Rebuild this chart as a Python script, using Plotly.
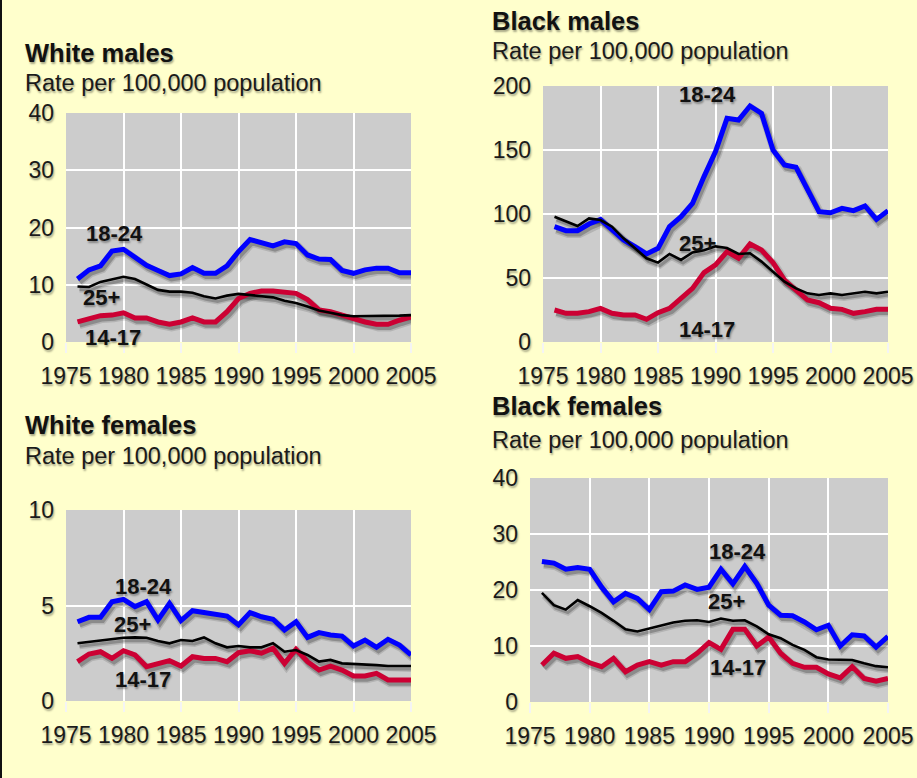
import plotly.graph_objects as go

# ---------------------------------------------------------------------------
# Homicide victimisation rates (per 100,000 population), 1976-2005
# ---------------------------------------------------------------------------
years = list(range(1976, 2006))
age_groups = ["18-24", "25+", "14-17"]

wm_18_24 = [11.0, 12.6, 13.3, 15.9, 16.2, 14.8, 13.4, 12.5, 11.6, 11.9,
            13.0, 12.0, 12.0, 13.3, 15.8, 17.9, 17.3, 16.8, 17.5, 17.2,
            15.2, 14.5, 14.4, 12.5, 12.0, 12.6, 12.9, 12.9, 12.1, 12.1]
wm_25_plus = [9.7, 9.6, 10.5, 10.9, 11.4, 11.0, 10.0, 9.1, 8.8, 8.8,
              8.6, 8.0, 7.6, 8.1, 8.4, 8.2, 8.0, 7.8, 7.2, 6.8,
              6.2, 5.5, 5.1, 4.7, 4.5, 4.5, 4.6, 4.6, 4.6, 4.7]
wm_14_17 = [3.5, 4.0, 4.6, 4.7, 5.1, 4.2, 4.2, 3.5, 3.1, 3.5,
            4.2, 3.5, 3.5, 5.3, 7.6, 8.5, 8.9, 8.9, 8.6, 8.5,
            7.4, 5.6, 5.3, 4.7, 4.0, 3.5, 3.1, 3.1, 3.8, 4.4]

bm_18_24 = [90.1, 87.0, 87.0, 92.2, 95.8, 88.0, 79.7, 74.5, 68.8, 73.2,
            90.1, 97.9, 108.3, 129.2, 148.7, 174.7, 173.4, 184.4, 178.6, 150.0,
            138.3, 136.5, 120.1, 101.8, 101.0, 104.4, 102.6, 106.3, 95.8, 102.6]
bm_25_plus = [97.9, 94.0, 90.6, 96.6, 95.3, 90.1, 81.0, 73.2, 65.4, 62.0,
              68.8, 64.1, 70.0, 71.6, 74.7, 73.4, 68.8, 69.3, 62.8, 54.9,
              47.1, 41.9, 38.0, 36.7, 38.0, 36.7, 38.0, 39.3, 38.0, 39.3]
bm_14_17 = [25.0, 22.4, 22.4, 23.7, 26.3, 22.4, 21.1, 21.1, 17.7, 22.9,
            26.3, 34.1, 41.9, 54.2, 60.2, 70.6, 65.4, 76.6, 71.9, 62.0,
            48.4, 40.6, 32.8, 30.7, 26.3, 25.5, 22.4, 23.7, 25.5, 25.5]

wf_18_24 = [4.15, 4.38, 4.38, 5.2, 5.32, 4.94, 5.2, 4.24, 5.11, 4.21,
            4.73, 4.63, 4.55, 4.45, 3.98, 4.63, 4.41, 4.28, 3.72, 4.15,
            3.33, 3.58, 3.46, 3.4, 2.88, 3.19, 2.81, 3.23, 2.93, 2.41]
wf_25_plus = [3.02, 3.1, 3.16, 3.23, 3.31, 3.33, 3.31, 3.14, 3.02, 3.19,
              3.14, 3.33, 3.02, 2.81, 2.88, 2.81, 2.81, 3.02, 2.58, 2.67,
              2.41, 2.06, 2.15, 1.97, 1.94, 1.94, 1.88, 1.83, 1.83, 1.83]
wf_14_17 = [2.06, 2.46, 2.58, 2.23, 2.63, 2.41, 1.8, 1.94, 2.11, 1.83,
            2.32, 2.23, 2.23, 2.06, 2.53, 2.63, 2.5, 2.76, 1.97, 2.71,
            2.06, 1.62, 1.83, 1.62, 1.31, 1.31, 1.45, 1.1, 1.1, 1.1]

bf_18_24 = [25.1, 24.8, 23.7, 24.0, 23.7, 20.5, 17.9, 19.4, 18.5, 16.5,
            19.7, 19.8, 20.9, 20.1, 20.5, 23.7, 21.1, 24.2, 21.2, 17.3,
            15.5, 15.4, 14.3, 12.9, 13.7, 10.0, 12.0, 11.8, 9.8, 11.7]
bf_25_plus = [19.5, 17.3, 16.5, 18.2, 17.1, 15.9, 14.5, 13.0, 12.6, 13.1,
              13.7, 14.2, 14.5, 14.6, 14.3, 14.9, 14.5, 14.6, 13.5, 12.1,
              11.4, 10.2, 9.3, 8.0, 7.6, 7.6, 7.5, 6.9, 6.4, 6.2]
bf_14_17 = [6.6, 8.7, 7.8, 8.1, 7.0, 6.3, 7.8, 5.4, 6.6, 7.2,
            6.6, 7.2, 7.2, 8.7, 10.6, 9.4, 13.0, 13.0, 10.0, 11.6,
            8.7, 6.9, 6.2, 6.2, 5.0, 4.3, 6.3, 4.2, 3.7, 4.2]

panel_titles = ["White males", "Black males", "White females", "Black females"]
subtitle = "Rate per 100,000 population"
x_ticks = [1975, 1980, 1985, 1990, 1995, 2000, 2005]

# ---------------------------------------------------------------------------
# Layout / style
# ---------------------------------------------------------------------------
W, H = 917, 778
FONT = "Liberation Sans, Arial, Helvetica, sans-serif"
BG = "#ffffcc"
PLOT_BG = "#cccccc"
TEXT_SHADOW = "1px 2px 2px rgba(0,0,0,0.35)"
TICK_SIZE = 23

# style per age group: (colour, width) - drawn in this order, 25+ on top
series_style = {
    "18-24": ("#0000ff", 5),
    "14-17": ("#cc0033", 5),
    "25+": ("#000000", 2.6),
}
draw_order = ["18-24", "14-17", "25+"]

# pixel boxes of the four plot areas: (left, right, top, bottom)
panels = [
    dict(series=dict(zip(age_groups, [wm_18_24, wm_25_plus, wm_14_17])),
         box=(66, 411, 113, 342), yrange=(0, 40), dtick=10,
         title_xy=(23, 53), sub_xy=(23, 83),
         labels={"18-24": (1979.2, 18.9), "25+": (1978.1, 7.7), "14-17": (1979.1, 0.7)}),
    dict(series=dict(zip(age_groups, [bm_18_24, bm_25_plus, bm_14_17])),
         box=(543, 888, 86, 342), yrange=(0, 200), dtick=50,
         title_xy=(490, 21), sub_xy=(490, 51),
         labels={"18-24": (1989.3, 193), "25+": (1988.4, 77.3), "14-17": (1989.3, 9.4)}),
    dict(series=dict(zip(age_groups, [wf_18_24, wf_25_plus, wf_14_17])),
         box=(66, 411, 510, 701), yrange=(0, 10), dtick=5,
         title_xy=(23, 425), sub_xy=(23, 456),
         labels={"18-24": (1981.7, 5.97), "25+": (1980.8, 3.98), "14-17": (1981.7, 1.1)}),
    dict(series=dict(zip(age_groups, [bf_18_24, bf_25_plus, bf_14_17])),
         box=(530, 888, 478, 702), yrange=(0, 40), dtick=10,
         title_xy=(490, 406), sub_xy=(490, 440),
         labels={"18-24": (1992.4, 26.8), "25+": (1991.5, 17.9), "14-17": (1992.4, 6.25)}),
]

SHADOW_DX, SHADOW_DY = 2, 3  # drop-shadow offset in pixels

fig = go.Figure()
layout = dict(
    width=W, height=H, autosize=False,
    margin=dict(l=0, r=0, t=0, b=0, pad=0),
    paper_bgcolor=BG, plot_bgcolor=PLOT_BG,
    showlegend=False,
    font=dict(family=FONT, color="#1a1a1a"),
    annotations=[], shapes=[],
)


def ax_key(kind, n):
    return kind + ("axis" if n == 1 else f"axis{n}")


def ref(kind, n):
    return kind if n == 1 else f"{kind}{n}"


for i, p in enumerate(panels):
    left, right, top, bottom = p["box"]
    xdom = [left / W, right / W]
    ydom = [1 - bottom / H, 1 - top / H]
    x0, x1 = 1975, 2005
    y0, y1 = p["yrange"]
    px_per_x = (right - left) / (x1 - x0)
    px_per_y = (bottom - top) / (y1 - y0)

    base = i + 1      # hidden axes carrying the drop shadows (offset range)
    main = i + 5      # visible axes carrying the data lines

    layout[ax_key("x", base)] = dict(
        domain=xdom, anchor=ref("y", base), automargin=False,
        range=[x0 - SHADOW_DX / px_per_x, x1 - SHADOW_DX / px_per_x],
        showgrid=False, zeroline=False, showticklabels=False, ticks="",
        showline=False, fixedrange=True)
    layout[ax_key("y", base)] = dict(
        domain=ydom, anchor=ref("x", base), automargin=False,
        range=[y0 + SHADOW_DY / px_per_y, y1 + SHADOW_DY / px_per_y],
        showgrid=False, zeroline=False, showticklabels=False, ticks="",
        showline=False, fixedrange=True)

    layout[ax_key("x", main)] = dict(
        domain=xdom, anchor=ref("y", main), overlaying=ref("x", base),
        automargin=False,
        range=[x0, x1], tickvals=x_ticks, ticktext=[str(t) for t in x_ticks],
        showgrid=True, gridcolor="white", gridwidth=2, zeroline=False,
        showline=False, ticks="outside", ticklen=10, tickwidth=2,
        tickcolor="#f4f4f4", tickangle=0, ticklabelstandoff=3,
        tickfont=dict(size=TICK_SIZE, family=FONT, color="#1a1a1a", shadow=TEXT_SHADOW),
        fixedrange=True)
    layout[ax_key("y", main)] = dict(
        domain=ydom, anchor=ref("x", main), overlaying=ref("y", base),
        automargin=False,
        range=[y0, y1], dtick=p["dtick"], tick0=0,
        showgrid=True, gridcolor="white", gridwidth=2, zeroline=False,
        showline=False, ticks="", ticklabelstandoff=11,
        tickfont=dict(size=TICK_SIZE, family=FONT, color="#1a1a1a", shadow=TEXT_SHADOW),
        fixedrange=True)

    # drop shadows first, on the hidden offset axes
    for name in draw_order:
        color, width = series_style[name]
        vals = p["series"][name]
        for extra, alpha in ((3.5, 0.12), (0.5, 0.22)):
            fig.add_trace(go.Scatter(
                x=years, y=vals, mode="lines",
                line=dict(color=f"rgba(0,0,0,{alpha})", width=width + extra),
                xaxis=ref("x", base), yaxis=ref("y", base), hoverinfo="skip"))

    # the data lines themselves
    for name in draw_order:
        color, width = series_style[name]
        fig.add_trace(go.Scatter(
            x=years, y=p["series"][name], mode="lines", name=name,
            line=dict(color=color, width=width),
            xaxis=ref("x", main), yaxis=ref("y", main)))

    # age-group labels
    for name, (lx, ly) in p["labels"].items():
        layout["annotations"].append(dict(
            x=lx, y=ly, xref=ref("x", main), yref=ref("y", main),
            text=f"<b>{name}</b>", showarrow=False,
            xanchor="center", yanchor="middle",
            font=dict(size=22, family=FONT, color="#111111", shadow=TEXT_SHADOW)))

    # panel title and subtitle
    tx, ty = p["title_xy"]
    layout["annotations"].append(dict(
        x=tx / W, y=1 - ty / H, xref="paper", yref="paper",
        text=f"<b>{panel_titles[i]}</b>", showarrow=False,
        xanchor="left", yanchor="middle",
        font=dict(size=25.5, family=FONT, color="#111111", shadow=TEXT_SHADOW)))
    sx, sy = p["sub_xy"]
    layout["annotations"].append(dict(
        x=sx / W, y=1 - sy / H, xref="paper", yref="paper",
        text=subtitle, showarrow=False,
        xanchor="left", yanchor="middle",
        font=dict(size=23.5, family=FONT, color="#1a1a1a", shadow=TEXT_SHADOW)))

# dark rule down the left edge of the page
layout["shapes"].append(dict(
    type="rect", xref="paper", yref="paper",
    x0=0, x1=2 / W, y0=0, y1=1,
    fillcolor="#111111", line=dict(width=0), layer="above"))

fig.update_layout(**layout)
fig.write_html("out.html", config=dict(displayModeBar=False))
